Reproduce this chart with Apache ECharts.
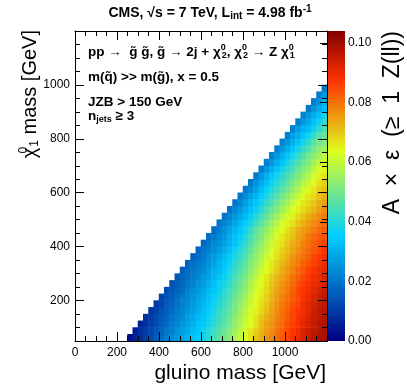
<!DOCTYPE html>
<html><head><meta charset="utf-8">
<script src="https://cdn.jsdelivr.net/npm/echarts@6/dist/echarts.min.js"></script>
<style>html,body{margin:0;padding:0;background:#fff}#c{width:407px;height:391px}</style>
</head><body><div id="c"></div>
<script>
// Grid of mass points (GeV): gluino bins 0..1175, chi bins 50..1175, step 25
const binStep = 25;
const gluinoBins = []; for (let g = 0; g < 1200; g += binStep) gluinoBins.push(g);
const chiBins = []; for (let c = 50; c < 1200; c += binStep) chiBins.push(c);
const xTicks = [0, 200, 400, 600, 800, 1000];
const yTicks = [200, 400, 600, 800, 1000];
const zTicks = [0, 0.02, 0.04, 0.06, 0.08, 0.10];
// A x eps per row: row k is chi = 50 + 25k, first entry at gluino = chi + 200, then +25 GeV each
const accRows = [
[.003,.006,.008,.011,.013,.016,.018,.021,.024,.026,.028,.031,.033,.035,.038,.041,.044,.047,.050,.053,.057,.060,.063,.067,.070,.073,.076,.078,.081,.083,.085,.088,.090,.093,.095,.097,.098,.099],
[.005,.008,.010,.012,.015,.017,.020,.022,.025,.027,.029,.032,.034,.037,.040,.043,.046,.049,.052,.055,.059,.062,.066,.069,.072,.075,.077,.080,.082,.085,.087,.089,.092,.094,.096,.097,.098],
[.006,.008,.011,.013,.016,.018,.021,.023,.026,.028,.030,.033,.035,.038,.041,.044,.047,.050,.054,.057,.061,.064,.067,.071,.074,.076,.079,.081,.084,.086,.088,.091,.093,.095,.097,.098],
[.008,.010,.013,.015,.017,.020,.022,.024,.027,.029,.032,.034,.037,.040,.043,.046,.049,.053,.056,.060,.063,.066,.070,.073,.075,.078,.080,.083,.085,.088,.090,.092,.095,.096,.097],
[.009,.011,.014,.016,.018,.021,.023,.025,.028,.030,.033,.035,.039,.042,.045,.048,.051,.055,.059,.062,.065,.068,.071,.074,.077,.080,.082,.085,.087,.089,.091,.094,.096,.097],
[.010,.012,.015,.017,.019,.022,.024,.026,.029,.032,.034,.037,.040,.043,.047,.050,.054,.057,.061,.064,.067,.070,.073,.076,.079,.081,.084,.086,.089,.091,.093,.095,.096],
[.012,.014,.016,.019,.021,.023,.025,.028,.030,.033,.036,.039,.042,.045,.049,.052,.056,.060,.063,.066,.069,.072,.075,.078,.080,.083,.085,.088,.090,.092,.094,.096],
[.013,.015,.017,.019,.022,.024,.026,.029,.032,.034,.037,.041,.044,.047,.051,.054,.058,.062,.065,.068,.071,.074,.077,.079,.082,.085,.087,.089,.091,.093,.095],
[.014,.016,.018,.020,.022,.025,.027,.030,.033,.036,.039,.042,.046,.049,.053,.057,.061,.064,.067,.070,.073,.076,.078,.081,.084,.086,.088,.090,.091,.093],
[.015,.017,.019,.021,.023,.026,.028,.031,.034,.037,.041,.044,.048,.051,.055,.059,.063,.066,.069,.072,.074,.077,.080,.082,.085,.087,.089,.090,.092],
[.016,.018,.020,.022,.024,.027,.030,.032,.035,.039,.042,.046,.049,.053,.057,.061,.064,.067,.070,.073,.076,.078,.081,.083,.086,.088,.089,.091],
[.017,.019,.021,.023,.025,.028,.031,.034,.037,.041,.044,.048,.052,.055,.059,.063,.066,.069,.072,.074,.077,.079,.082,.084,.086,.088,.090],
[.017,.019,.021,.024,.026,.029,.032,.035,.039,.042,.046,.050,.054,.057,.061,.064,.067,.070,.073,.076,.078,.080,.082,.085,.087,.089],
[.018,.020,.022,.024,.027,.030,.033,.037,.040,.044,.048,.052,.056,.059,.063,.066,.069,.071,.074,.077,.079,.081,.083,.085,.088],
[.018,.020,.023,.025,.028,.031,.034,.038,.042,.046,.050,.054,.058,.061,.065,.067,.070,.073,.075,.078,.080,.082,.084,.086],
[.019,.021,.024,.026,.030,.033,.036,.040,.044,.049,.052,.056,.059,.063,.066,.069,.071,.074,.076,.079,.081,.083,.084],
[.019,.022,.025,.028,.031,.034,.038,.042,.047,.051,.054,.058,.061,.064,.067,.070,.073,.075,.077,.079,.081,.083],
[.020,.023,.025,.028,.032,.035,.039,.043,.047,.051,.055,.058,.062,.065,.067,.070,.073,.075,.077,.079,.081],
[.020,.023,.026,.029,.032,.036,.040,.044,.048,.052,.055,.059,.062,.065,.068,.070,.073,.075,.077,.079],
[.020,.023,.026,.030,.033,.037,.041,.045,.049,.052,.056,.059,.063,.065,.068,.070,.072,.075,.077],
[.020,.023,.027,.031,.034,.038,.042,.045,.049,.053,.056,.060,.063,.066,.068,.070,.073,.075],
[.020,.024,.028,.031,.035,.039,.043,.046,.050,.053,.057,.060,.064,.066,.068,.071,.073],
[.021,.024,.028,.032,.036,.040,.043,.047,.050,.054,.057,.061,.064,.066,.069,.071],
[.021,.025,.029,.033,.037,.040,.044,.047,.051,.054,.058,.061,.064,.067,.069],
[.021,.026,.030,.034,.038,.041,.045,.048,.051,.055,.058,.062,.065,.067],
[.021,.026,.030,.034,.038,.041,.045,.049,.052,.055,.059,.062,.065],
[.022,.026,.030,.034,.038,.042,.045,.049,.052,.056,.059,.062],
[.022,.026,.030,.034,.038,.042,.046,.050,.053,.056,.059],
[.022,.026,.030,.034,.038,.042,.046,.050,.053,.056],
[.022,.026,.030,.034,.038,.042,.047,.050,.052],
[.022,.027,.030,.034,.038,.042,.046,.049],
[.022,.027,.030,.033,.037,.041,.045],
[.022,.026,.029,.033,.037,.042],
[.022,.026,.030,.033,.038],
[.021,.025,.029,.033],
[.021,.025,.030],
[.021,.026],
[.022]
];
const zMax = 0.104;

// palette (ROOT-like rainbow)
const pStops = [0, 0.34, 0.61, 0.84, 1], pR = [0, 0, 0.87, 1, 0.51], pG = [0, 0.81, 1, 0.2, 0], pB = [0.51, 1, 0.12, 0, 0];
function pal(t) {
  let i = 0; while (i < pStops.length - 2 && t > pStops[i + 1]) i++;
  const f = (t - pStops[i]) / (pStops[i + 1] - pStops[i]);
  const ch = a => Math.round(255 * (a[i] + (a[i + 1] - a[i]) * f));
  return 'rgb(' + ch(pR) + ',' + ch(pG) + ',' + ch(pB) + ')';
}
const colors = []; const gradStops = [];
for (let k = 0; k <= 100; k++) { colors.push(pal(k / 100)); gradStops.push({ offset: k / 100, color: pal(k / 100) }); }

const data = [];
accRows.forEach((row, j) => {
  const chi = chiBins[j];
  row.forEach((v, k) => {
    const g = chi + 200 + binStep * k;
    data.push([gluinoBins.indexOf(g), j, v]);
  });
});

const FF = 'Liberation Sans';
const frameColor = '#000';
const PL = 75, PT = 31, PW = 252, PH = 310;
const tickFont = { fontSize: 12, color: '#000', fontFamily: FF };

const valAxisBase = (extra) => Object.assign({
  gridIndex: 0, type: 'value', z: 10,
  splitLine: { show: false },
  axisLine: { show: true, lineStyle: { color: frameColor, width: 1 } },
  axisTick: { show: true, inside: true, length: 9, lineStyle: { color: frameColor, width: 1 } },
  axisLabel: { show: false }
}, extra);

const supB = { fontSize: 9, fontFamily: FF, fontWeight: 'bold', padding: [0, 0, 8, 0], width: 1 };
const subB = { fontSize: 9, fontFamily: FF, fontWeight: 'bold', padding: [7, 0, 0, 0] };
const annBase = { fontSize: 13.5, fontFamily: FF, fontWeight: 'bold', fill: '#000', align: 'left', verticalAlign: 'middle' };

const option = {
  animation: false,
  textStyle: { fontFamily: FF },
  grid: [
    { left: PL, top: PT, width: PW, height: PH },
    { left: 328, top: PT, width: 17, height: PH }
  ],
  xAxis: [
    valAxisBase({ min: 0, max: 1200, interval: 200, position: 'bottom',
      minorTick: { show: true, splitNumber: 4, length: 5, lineStyle: { color: frameColor } },
      axisLabel: Object.assign({ show: true, margin: 6, showMaxLabel: false, formatter: v => String(v) }, tickFont) }),
    valAxisBase({ min: 0, max: 1200, interval: 200, position: 'top',
      minorTick: { show: true, splitNumber: 4, length: 5, lineStyle: { color: frameColor } } }),
    { gridIndex: 0, type: 'category', data: gluinoBins, show: false },
    { gridIndex: 1, type: 'value', min: 0, max: 1, show: false }
  ],
  yAxis: [
    valAxisBase({ min: 50, max: 1200, position: 'left',
      axisTick: { show: true, inside: true, length: 9, customValues: yTicks, lineStyle: { color: frameColor } },
      axisLabel: Object.assign({ show: true, margin: 5, customValues: yTicks, formatter: v => String(v) }, tickFont) }),
    valAxisBase({ min: 50, max: 1200, interval: 50, position: 'left', axisLine: { show: false },
      axisTick: { show: true, inside: true, length: 5, lineStyle: { color: frameColor } } }),
    valAxisBase({ min: 50, max: 1200, position: 'right',
      axisTick: { show: true, inside: true, length: 9, customValues: yTicks, lineStyle: { color: frameColor } } }),
    valAxisBase({ min: 50, max: 1200, interval: 50, position: 'right', axisLine: { show: false },
      axisTick: { show: true, inside: true, length: 5, lineStyle: { color: frameColor } } }),
    { gridIndex: 0, type: 'category', data: chiBins, show: false },
    { gridIndex: 1, type: 'value', min: 0, max: zMax, position: 'right', z: 10,
      splitLine: { show: false }, axisLine: { show: false },
      axisTick: { show: true, inside: true, length: 8, customValues: zTicks, lineStyle: { color: '#000' } },
      axisLabel: Object.assign({ show: true, margin: 3, customValues: zTicks, formatter: v => v.toFixed(2) }, tickFont) }
  ],
  visualMap: { show: false, type: 'continuous', min: 0, max: zMax, dimension: 2, seriesIndex: 0, inRange: { color: colors } },
  series: [{
    type: 'heatmap', xAxisIndex: 2, yAxisIndex: 4, data: data,
    itemStyle: { borderWidth: 0 }, emphasis: { disabled: true }, progressive: 0
  }],
  graphic: [
    { type: 'rect', shape: { x: 328, y: PT, width: 17, height: PH }, z: 1,
      style: { fill: { type: 'linear', x: 0, y: 1, x2: 0, y2: 0, colorStops: gradStops } } },
    { type: 'text', x: 210, y: 13, z: 20, style: {
      text: 'CMS, \u221As = 7 TeV, L{sub|int} = 4.98 fb{sup|-1}',
      fontSize: 14, fontFamily: FF, fontWeight: 'bold', fill: '#000', align: 'center', verticalAlign: 'middle',
      rich: { sub: { fontSize: 10, fontFamily: FF, fontWeight: 'bold', padding: [7, 0, 0, 0] },
              sup: { fontSize: 10, fontFamily: FF, fontWeight: 'bold', padding: [0, 0, 8, 0] } } } },
    { type: 'text', x: 326, y: 373, z: 20, style: { text: 'gluino mass [GeV]', fontSize: 21, fontFamily: FF, fill: '#000', align: 'right', verticalAlign: 'middle' } },
    { type: 'text', x: 30, y: 30, rotation: Math.PI / 2, z: 20, style: {
      text: '\u03C7{sup|0}{sub|1} mass [GeV]', fontSize: 20, fontFamily: FF, fill: '#000', align: 'right', verticalAlign: 'middle',
      rich: { sup: { fontSize: 12, fontFamily: FF, padding: [0, 0, 12, 0], width: 1 }, sub: { fontSize: 12, fontFamily: FF, padding: [10, 0, 0, 0] } } } },
    { type: 'text', x: 393, y: 31, rotation: Math.PI / 2, z: 20, style: {
      text: 'A  \u00D7  \u03B5  (\u2265  1  Z(ll))', fontSize: 23, fontFamily: FF, fill: '#000', align: 'right', verticalAlign: 'middle' } },
    { type: 'text', x: 88, y: 52, z: 20, style: Object.assign({
      text: 'pp \u2192  g\u0303 g\u0303, g\u0303 \u2192 2j + \u03C7{sup|0}{sub|2}, \u03C7{sup|0}{sub|2} \u2192 Z \u03C7{sup|0}{sub|1}',
      rich: { sup: supB, sub: subB } }, annBase) },
    { type: 'text', x: 88, y: 77, z: 20, style: Object.assign({ text: 'm(q\u0303) >> m(g\u0303), x = 0.5' }, annBase) },
    { type: 'text', x: 88, y: 102, z: 20, style: Object.assign({ text: 'JZB > 150 GeV' }, annBase) },
    { type: 'text', x: 88, y: 116, z: 20, style: Object.assign({ text: 'n{sub|jets} \u2265 3',
      rich: { sub: { fontSize: 9, fontFamily: FF, fontWeight: 'bold', padding: [7, 0, 0, 0] } } }, annBase) }
  ]
};
const chart = echarts.init(document.getElementById('c'), null, { renderer: 'canvas' });
chart.setOption(option);
</script></body></html>
